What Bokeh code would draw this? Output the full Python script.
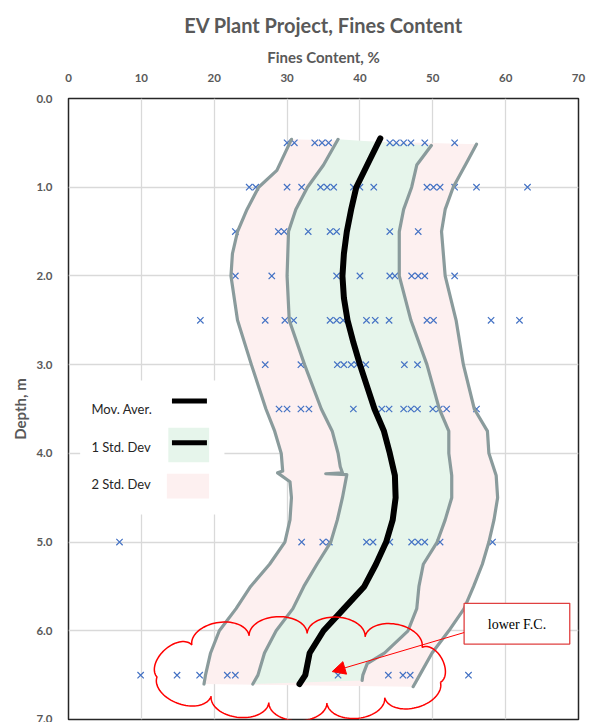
import numpy as np
from bokeh.plotting import figure
from bokeh.models import Range1d, FixedTicker, PrintfTickFormatter, Arrow, NormalHead
from bokeh.core.properties import value
from bokeh.embed import file_html
from bokeh.resources import INLINE

# ---------------- data ----------------
x_ticks = [0, 10, 20, 30, 40, 50, 60, 70]
y_ticks = [0, 1, 2, 3, 4, 5, 6, 7]

sample_depths = [0.5, 1.0, 1.5, 2.0, 2.5, 3.0, 3.5, 5.0, 6.5]
fc_0_5 = [30.0, 31.0, 33.8, 34.8, 35.7, 44.1, 45.0, 46.0, 47.0, 48.9, 53.0]
fc_1_0 = [24.8, 25.7, 30.0, 32.0, 34.6, 35.5, 36.4, 39.1, 40.0, 41.9, 49.2, 50.1, 51.0, 53.0, 56.0, 63.0]
fc_1_5 = [22.9, 28.8, 29.6, 32.9, 35.9, 36.8, 44.1, 48.0]
fc_2_0 = [22.9, 27.9, 36.8, 40.0, 44.1, 44.8, 47.1, 48.0, 48.9, 53.0]
fc_2_5 = [18.1, 27.0, 29.7, 30.9, 35.9, 36.8, 37.7, 40.9, 42.1, 44.0, 49.2, 50.1, 58.0, 61.9]
fc_3_0 = [27.0, 31.9, 36.9, 37.8, 38.8, 39.6, 40.8, 46.1, 47.9]
fc_3_5 = [28.9, 30.0, 31.9, 33.0, 39.1, 43.0, 44.0, 46.0, 47.0, 47.9, 50.0, 50.9, 51.9, 56.0]
fc_5_0 = [7.0, 32.0, 34.9, 35.8, 40.9, 41.8, 44.1, 47.1, 48.0, 48.9, 51.0, 58.2]
fc_6_5 = [9.9, 14.9, 18.0, 21.8, 22.9, 37.0, 43.9, 45.9, 46.9, 54.9]
fc_rows = [fc_0_5, fc_1_0, fc_1_5, fc_2_0, fc_2_5, fc_3_0, fc_3_5, fc_5_0, fc_6_5]

# moving average (hand drawn)
ma_depth = [0.45, 0.75, 1.0, 1.25, 1.5, 1.75, 2.0, 2.25, 2.5, 2.75, 3.0, 3.25, 3.5, 3.75,
            4.0, 4.25, 4.5, 4.75, 5.0, 5.25, 5.5, 5.75, 6.0, 6.25, 6.5, 6.6]
ma_fc = [42.8, 41.0, 39.5, 38.8, 38.2, 37.8, 37.6, 37.8, 38.3, 39.1, 40.0, 41.0, 42.0, 43.3,
         44.1, 44.8, 44.9, 44.5, 43.6, 42.2, 40.6, 37.8, 35.0, 33.1, 32.5, 31.7]

# 1 std. dev. band edges
sd1_left_depth = [0.46, 0.75, 1.0, 1.25, 1.5, 2.0, 2.5, 3.0, 3.5, 3.75, 4.0, 4.15, 4.22, 4.23,
                  4.24, 4.5, 4.75, 5.0, 5.25, 5.5, 5.75, 6.0, 6.25, 6.5, 6.6]
sd1_left_fc = [37.0, 35.0, 32.8, 31.2, 30.2, 30.0, 30.3, 32.4, 34.7, 36.2, 37.0, 37.3, 37.6, 35.3,
               38.2, 37.6, 36.9, 36.0, 34.1, 32.3, 30.8, 28.5, 26.9, 26.0, 25.3]
sd1_right_depth = [0.53, 0.75, 1.0, 1.25, 1.5, 2.0, 2.5, 3.0, 3.5, 3.75, 4.0, 4.25, 4.5, 4.75,
                   5.0, 5.25, 5.5, 5.75, 6.0, 6.25, 6.37, 6.5, 6.56]
sd1_right_fc = [49.8, 47.8, 47.1, 46.0, 45.4, 45.4, 47.0, 49.2, 50.9, 52.2, 52.2, 52.6, 52.6, 51.7,
                50.6, 48.7, 48.1, 47.8, 46.6, 43.4, 41.0, 40.4, 40.3]

# 2 std. dev. band edges
sd2_left_depth = [0.46, 0.81, 1.0, 1.25, 1.5, 1.75, 2.0, 2.5, 3.0, 3.5, 3.75, 4.0, 4.2, 4.22,
                  4.32, 4.5, 4.75, 5.0, 5.25, 5.5, 5.75, 6.0, 6.25, 6.5, 6.6]
sd2_left_fc = [30.6, 28.6, 26.1, 24.5, 23.2, 22.5, 22.3, 23.2, 25.1, 27.1, 28.3, 29.2, 29.4, 28.7,
               30.4, 30.6, 30.4, 29.7, 27.6, 25.0, 23.0, 20.7, 19.5, 18.8, 18.6]
sd2_right_depth = [0.515, 0.73, 1.0, 1.25, 1.5, 2.0, 2.5, 3.0, 3.5, 3.75, 4.0, 4.25, 4.5, 4.75,
                   5.0, 5.25, 5.5, 5.75, 6.0, 6.25, 6.5, 6.63]
sd2_right_fc = [56.0, 54.6, 52.8, 51.7, 51.2, 51.7, 53.2, 54.2, 55.7, 57.5, 57.7, 58.7, 58.9, 58.4,
                57.7, 56.8, 55.6, 54.3, 52.2, 49.9, 48.2, 47.3]

legend_labels = ["Mov. Aver.", "1 Std. Dev", "2 Std. Dev"]
callout_text = "lower F.C."

# ---------------- layout ----------------
W, H = 595, 722
L, R, T, B = 68, 17, 98, 3
FW, FH = W - L - R, H - T - B

GRAY_TXT = "#595959"
GREEN = "#e6f5eb"
PINK = "#fdf0f0"
BAND = "#8a9b9c"
BLUE = "#4472C4"
RED = "#ff0000"

p = figure(width=W, height=H, x_range=Range1d(0, 70), y_range=Range1d(7, 0),
           x_axis_location="above", output_backend="svg", toolbar_location=None,
           min_border_left=L, min_border_right=R, min_border_top=T, min_border_bottom=B,
           title="EV Plant Project, Fines Content")
p.background_fill_color = "white"
p.border_fill_color = "white"
p.outline_line_color = "#262626"
p.outline_line_width = 1.5

p.title.align = "center"
p.title.vertical_align = "top"
p.title.offset = -25
p.title.standoff = 12
p.title.text_font = "Lato"
p.title.text_font_size = "20px"
p.title.text_font_style = "bold"
p.title.text_color = GRAY_TXT

for ax in (p.xaxis[0], p.yaxis[0]):
    ax.axis_line_color = None
    ax.major_tick_line_color = None
    ax.minor_tick_line_color = None
    ax.major_label_text_font = "Lato"
    ax.major_label_text_font_size = "11.5px"
    ax.major_label_text_font_style = "bold"
    ax.major_label_text_color = GRAY_TXT
    ax.axis_label_text_font = "Lato"
    ax.axis_label_text_font_size = "15px"
    ax.axis_label_text_font_style = "bold"
    ax.axis_label_text_color = GRAY_TXT

p.xaxis.ticker = FixedTicker(ticks=x_ticks)
p.yaxis.ticker = FixedTicker(ticks=y_ticks)
p.yaxis.formatter = PrintfTickFormatter(format="%.1f")
p.xaxis.axis_label = "Fines Content, %"
p.yaxis.axis_label = "Depth, m"
p.xaxis.major_label_standoff = 11
p.xaxis.axis_label_standoff = 5
p.yaxis.major_label_standoff = 10
p.yaxis.axis_label_standoff = 4

p.xgrid.ticker = FixedTicker(ticks=x_ticks)
p.ygrid.ticker = FixedTicker(ticks=y_ticks)
p.grid.grid_line_color = "#d9d9d9"
p.grid.grid_line_width = 1.3

# ---------------- bands ----------------
p.patch(sd2_left_fc + sd2_right_fc[::-1], sd2_left_depth + sd2_right_depth[::-1],
        fill_color=PINK, line_color=None)
p.patch(sd1_left_fc + sd1_right_fc[::-1], sd1_left_depth + sd1_right_depth[::-1],
        fill_color=GREEN, line_color=None)

# ---------------- legend box ----------------
p.quad(left=[1.6], right=[21.4], top=[3.18], bottom=[4.69], fill_color="white", line_color=None)

# ---------------- samples ----------------
xs, ys = [], []
for d, row in zip(sample_depths, fc_rows):
    xs += row
    ys += [d] * len(row)
p.scatter(xs, ys, marker="x", size=9, line_color=BLUE, line_width=1.2)

for bx, by in [(sd2_left_fc, sd2_left_depth), (sd2_right_fc, sd2_right_depth),
               (sd1_left_fc, sd1_left_depth), (sd1_right_fc, sd1_right_depth)]:
    p.line(bx, by, line_color=BAND, line_width=3.2, line_join="round", line_cap="round")

p.line(ma_fc, ma_depth, line_color="black", line_width=6, line_join="round", line_cap="round")

# ---------------- legend content ----------------
p.text(x=[3.15, 3.15, 3.15], y=[3.50, 3.93, 4.35], text=legend_labels,
       text_font=value("Lato"), text_font_size="13px", text_baseline="middle",
       text_color="#262626")
p.quad(left=[13.7], right=[19.3], top=[3.71], bottom=[4.10], fill_color=GREEN, line_color=None)
p.quad(left=[13.5], right=[19.3], top=[4.23], bottom=[4.51], fill_color=PINK, line_color=None)
p.line([14.2, 19.0], [3.41, 3.41], line_color="black", line_width=5)
p.line([14.2, 19.0], [3.88, 3.88], line_color="black", line_width=5)

# ---------------- cloud callout ----------------
def px2x(px):
    return (px - L) * 70.0 / FW

def py2y(py):
    return (py - T) * 7.0 / FH

cloud_c = (302.0, 668.0)   # screen px centre
cloud_ab = (150.0, 35.0)
n_bumps, bulge = 11, 0.62
th = np.linspace(0, 2 * np.pi, 4001)
ex = cloud_c[0] + cloud_ab[0] * np.cos(th)
ey = cloud_c[1] + cloud_ab[1] * np.sin(th)
seg = np.hypot(np.diff(ex), np.diff(ey))
cum = np.concatenate([[0], np.cumsum(seg)])
targets = np.linspace(0, cum[-1], n_bumps + 1) + cum[-1] * 0.03
targets = np.mod(targets, cum[-1])
pts = [(np.interp(t, cum, ex), np.interp(t, cum, ey)) for t in targets]
cx_pts, cy_pts = [], []
tt = np.linspace(0, np.pi, 40)
for i in range(n_bumps):
    (x0, y0), (x1, y1) = pts[i], pts[i + 1]
    mx, my = (x0 + x1) / 2, (y0 + y1) / 2
    ux, uy = x0 - mx, y0 - my
    half = np.hypot(ux, uy)
    nx = (mx - cloud_c[0]) / cloud_ab[0] ** 2
    ny = (my - cloud_c[1]) / cloud_ab[1] ** 2
    nn = np.hypot(nx, ny)
    nx, ny = nx / nn, ny / nn
    qx = mx + np.cos(tt) * ux + np.sin(tt) * nx * half * bulge
    qy = my + np.cos(tt) * uy + np.sin(tt) * ny * half * bulge
    cx_pts += list(qx)
    cy_pts += list(qy)
cx_pts.append(cx_pts[0])
cy_pts.append(cy_pts[0])
p.line([px2x(v) for v in cx_pts], [py2y(v) for v in cy_pts], line_color=RED, line_width=1.5)

# callout box, text and arrow
p.quad(left=[54.3], right=[68.8], top=[5.69], bottom=[6.15], fill_color="white",
       line_color="#e04040", line_width=1.3)
p.text(x=[61.55], y=[5.93], text=[callout_text], text_font=value("Liberation Serif"),
       text_font_size="14px", text_align="center", text_baseline="middle", text_color="black")
p.add_layout(Arrow(x_start=54.3, y_start=6.02, x_end=36.2, y_end=6.46,
                   line_color=RED, line_width=1,
                   end=NormalHead(size=13, fill_color=RED, line_color=RED)))

open("out.html", "w").write(file_html(p, INLINE))
